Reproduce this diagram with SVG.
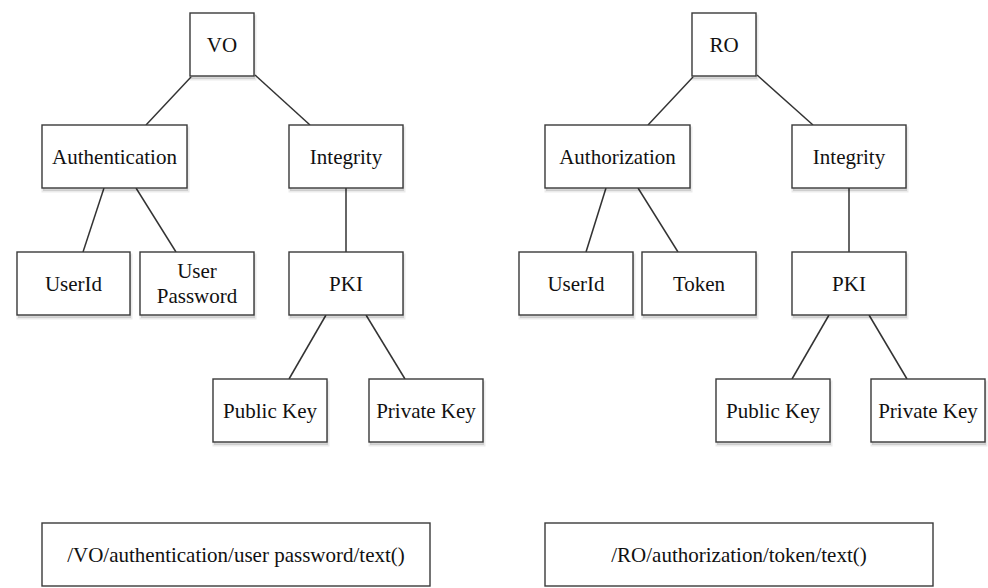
<svg xmlns="http://www.w3.org/2000/svg" width="988" height="588" viewBox="0 0 988 588">
  <style>
    .box { fill: #fff; stroke: #3a3a3a; stroke-width: 1.4; }
    .sh { fill: #000; fill-opacity: 0.12; stroke: #000; stroke-opacity: 0.08; stroke-width: 3; }
    .lbl { font-family: "Liberation Serif", serif; font-size: 21px; fill: #111; text-anchor: middle; }
    .edge { stroke: #333; stroke-width: 1.5; fill: none; }
  </style>
  <rect width="988" height="588" fill="#fff"/>

  <!-- connectors -->
  <g id="connectors" class="edge">
    <!-- VO tree -->
    <line x1="191" y1="77" x2="146" y2="125"/>
    <line x1="255" y1="75" x2="310" y2="125"/>
    <line x1="104" y1="188" x2="83" y2="252"/>
    <line x1="136" y1="188" x2="176" y2="252"/>
    <line x1="346" y1="188" x2="346" y2="252"/>
    <line x1="326" y1="315" x2="289" y2="379"/>
    <line x1="366" y1="315" x2="405" y2="379"/>
    <!-- RO tree -->
    <line x1="693" y1="77" x2="648" y2="125"/>
    <line x1="757" y1="75" x2="813" y2="125"/>
    <line x1="606" y1="188" x2="586" y2="252"/>
    <line x1="638" y1="188" x2="678" y2="252"/>
    <line x1="849" y1="188" x2="849" y2="252"/>
    <line x1="829" y1="315" x2="792" y2="379"/>
    <line x1="869" y1="315" x2="907" y2="379"/>
  </g>

  <!-- VO tree nodes (each with an offset soft shadow) -->
  <g id="vo">
    <rect class="sh" x="191" y="16" width="64" height="63"/>
    <rect class="box" x="190" y="13" width="64" height="63"/>
    <text class="lbl" x="222" y="52">VO</text>
  </g>
  <g id="vo-authentication">
    <rect class="sh" x="43" y="128" width="145" height="63"/>
    <rect class="box" x="42" y="125" width="145" height="63"/>
    <text class="lbl" x="114.5" y="164">Authentication</text>
  </g>
  <g id="vo-integrity">
    <rect class="sh" x="290" y="128" width="114" height="63"/>
    <rect class="box" x="289" y="125" width="114" height="63"/>
    <text class="lbl" x="346" y="164">Integrity</text>
  </g>
  <g id="vo-userid">
    <rect class="sh" x="18" y="255" width="113" height="63"/>
    <rect class="box" x="17" y="252" width="113" height="63"/>
    <text class="lbl" x="73.5" y="291">UserId</text>
  </g>
  <g id="vo-userpassword">
    <rect class="sh" x="141" y="255" width="114" height="63"/>
    <rect class="box" x="140" y="252" width="114" height="63"/>
    <text class="lbl" x="197" y="278">User</text>
    <text class="lbl" x="197" y="303">Password</text>
  </g>
  <g id="vo-pki">
    <rect class="sh" x="290" y="255" width="114" height="63"/>
    <rect class="box" x="289" y="252" width="114" height="63"/>
    <text class="lbl" x="346" y="291">PKI</text>
  </g>
  <g id="vo-publickey">
    <rect class="sh" x="214" y="382" width="114" height="63"/>
    <rect class="box" x="213" y="379" width="114" height="63"/>
    <text class="lbl" x="270" y="418">Public Key</text>
  </g>
  <g id="vo-privatekey">
    <rect class="sh" x="370" y="382" width="114" height="63"/>
    <rect class="box" x="369" y="379" width="114" height="63"/>
    <text class="lbl" x="426" y="418">Private Key</text>
  </g>
  <g id="vo-path">
    <rect class="box" x="42" y="523" width="388" height="63"/>
    <text class="lbl" x="236" y="562">/VO/authentication/user password/text()</text>
  </g>

  <!-- RO tree nodes -->
  <g id="ro">
    <rect class="sh" x="693" y="16" width="64" height="63"/>
    <rect class="box" x="692" y="13" width="64" height="63"/>
    <text class="lbl" x="724" y="52">RO</text>
  </g>
  <g id="ro-authorization">
    <rect class="sh" x="546" y="128" width="145" height="63"/>
    <rect class="box" x="545" y="125" width="145" height="63"/>
    <text class="lbl" x="617.5" y="164">Authorization</text>
  </g>
  <g id="ro-integrity">
    <rect class="sh" x="793" y="128" width="114" height="63"/>
    <rect class="box" x="792" y="125" width="114" height="63"/>
    <text class="lbl" x="849" y="164">Integrity</text>
  </g>
  <g id="ro-userid">
    <rect class="sh" x="520" y="255" width="114" height="63"/>
    <rect class="box" x="519" y="252" width="114" height="63"/>
    <text class="lbl" x="576" y="291">UserId</text>
  </g>
  <g id="ro-token">
    <rect class="sh" x="643" y="255" width="114" height="63"/>
    <rect class="box" x="642" y="252" width="114" height="63"/>
    <text class="lbl" x="699" y="291">Token</text>
  </g>
  <g id="ro-pki">
    <rect class="sh" x="793" y="255" width="114" height="63"/>
    <rect class="box" x="792" y="252" width="114" height="63"/>
    <text class="lbl" x="849" y="291">PKI</text>
  </g>
  <g id="ro-publickey">
    <rect class="sh" x="717" y="382" width="114" height="63"/>
    <rect class="box" x="716" y="379" width="114" height="63"/>
    <text class="lbl" x="773" y="418">Public Key</text>
  </g>
  <g id="ro-privatekey">
    <rect class="sh" x="872" y="382" width="114" height="63"/>
    <rect class="box" x="871" y="379" width="114" height="63"/>
    <text class="lbl" x="928" y="418">Private Key</text>
  </g>
  <g id="ro-path">
    <rect class="box" x="545" y="523" width="388" height="63"/>
    <text class="lbl" x="739" y="562">/RO/authorization/token/text()</text>
  </g>
</svg>
